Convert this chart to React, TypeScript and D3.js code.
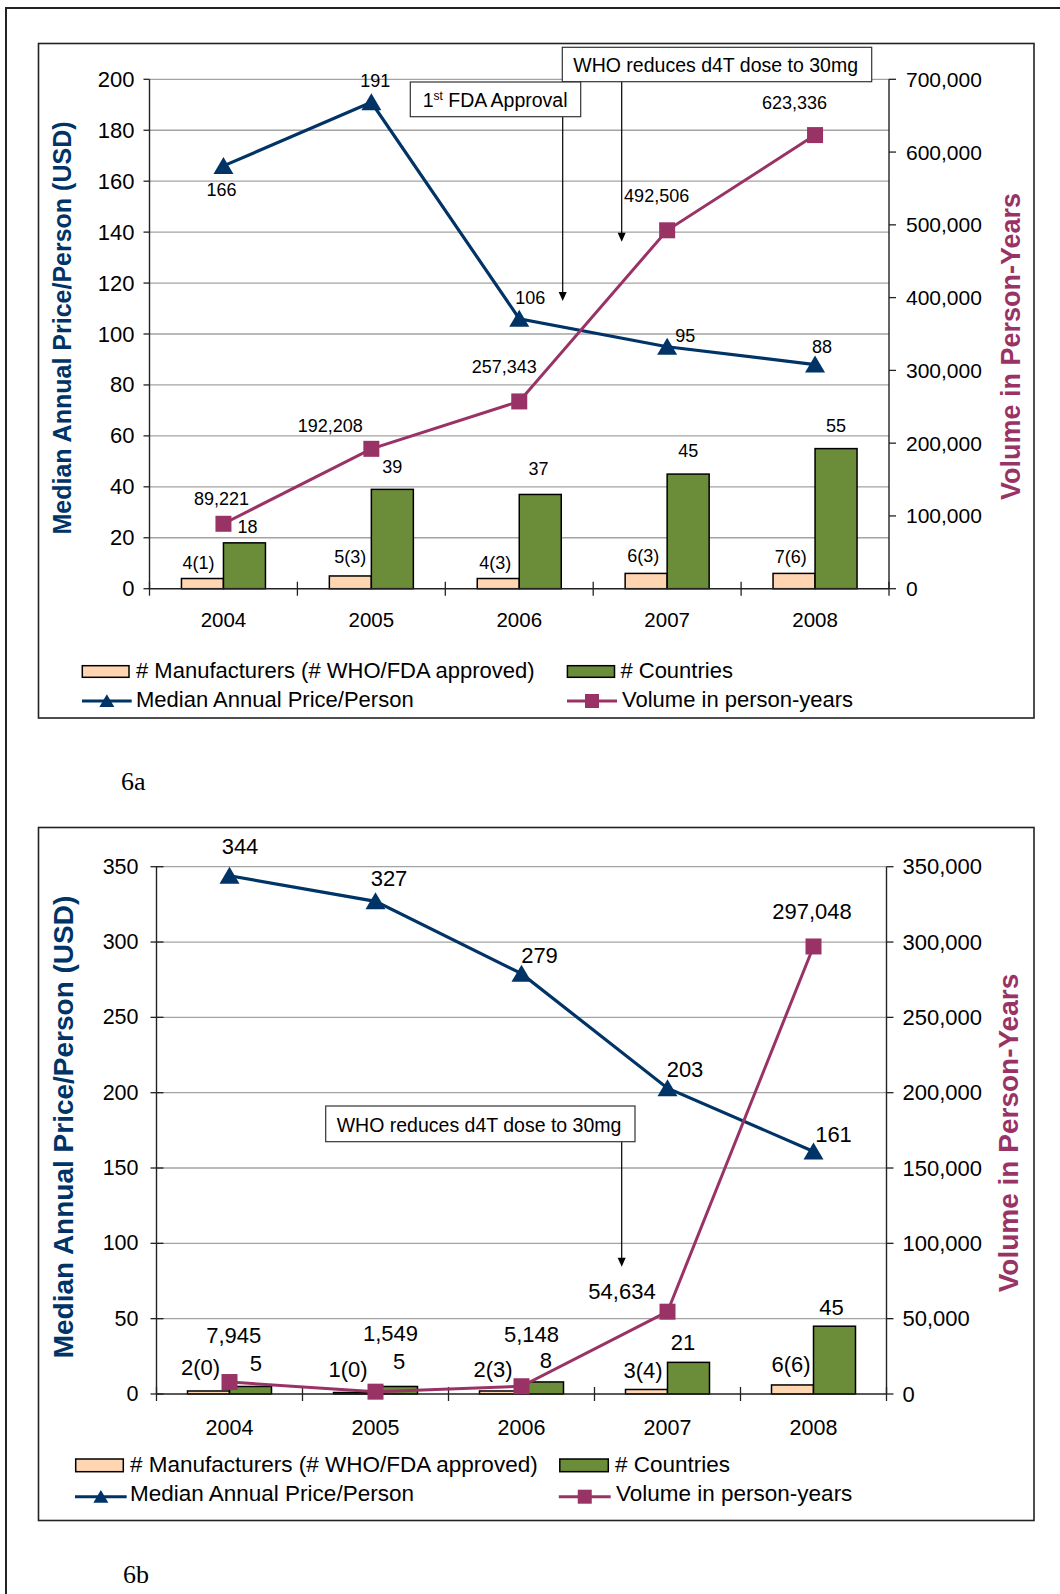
import * as d3 from 'd3';
import React from 'react';

const years = ['2004', '2005', '2006', '2007', '2008'];

// Figure 6a
const mfrA = [4, 5, 4, 6, 6];
const mfrLabelsA = ['4(1)', '5(3)', '4(3)', '6(3)', '7(6)'];
const countriesA = [18, 39, 37, 45, 55];
const priceA = [166, 191, 106, 95, 88];
const volumeA = [89221, 192208, 257343, 492506, 623336];
const leftTicksA = [0, 20, 40, 60, 80, 100, 120, 140, 160, 180, 200];
const rightTicksA = [0, 100000, 200000, 300000, 400000, 500000, 600000, 700000];

// Figure 6b
const mfrB = [2, 1, 2, 3, 6];
const mfrLabelsB = ['2(0)', '1(0)', '2(3)', '3(4)', '6(6)'];
const countriesB = [5, 5, 8, 21, 45];
const priceB = [344, 327, 279, 203, 161];
const volumeB = [7945, 1549, 5148, 54634, 297048];
const leftTicksB = [0, 50, 100, 150, 200, 250, 300, 350];
const rightTicksB = [0, 50000, 100000, 150000, 200000, 250000, 300000, 350000];

const legendNames = [
  '# Manufacturers (# WHO/FDA approved)',
  '# Countries',
  'Median Annual Price/Person',
  'Volume in person-years',
];
const leftTitle = 'Median Annual Price/Person (USD)';
const rightTitle = 'Volume in Person-Years';
const whoNote = 'WHO reduces d4T dose to 30mg';

const FONT = "'Liberation Sans', Arial, Helvetica, sans-serif";
const NAVY = '#003366';
const MAGENTA = '#993366';
const PEACH = '#FFD5B2';
const GREEN = '#6B8C38';
const GRID = '#a3a3a3';
const INK = '#222';

const fmt = d3.format(',');

type Off = [number, number];

interface PanelCfg {
  frame: [number, number, number, number];
  plot: { left: number; right: number; top: number; bottom: number };
  leftTicks: number[];
  rightTicks: number[];
  mfr: number[];
  mfrLabels: string[];
  countries: number[];
  price: number[];
  volume: number[];
  fs: { left: number; right: number; x: number; data: number; legend: number; titleL: number; titleR: number };
  leftGap: number;
  rightGap: number;
  leftTickIn: number;
  barW: number;
  xLabelBase: number;
  priceOff: Off[];
  volOff: Off[];
  ctyOff: Off[];
  mfrOff: Off[];
  titleL: [number, number];
  titleR: [number, number];
  legend: {
    row1: number;
    row2: number;
    lineY: number;
    swH: number;
    swY: number;
    col1: [number, number, number]; // swatch x0, x1, text x
    col2: [number, number, number];
    col1b: [number, number, number];
    col2b: [number, number, number];
  };
  caption: { text: string; x: number; y: number };
}

const tri = (cx: number, cy: number, s = 1) =>
  `M${cx},${cy - 9 * s}L${cx + 10 * s},${cy + 8 * s}L${cx - 10 * s},${cy + 8 * s}Z`;

const Arrow = ({ x, y0, y1 }: { x: number; y0: number; y1: number }) => (
  <g>
    <line x1={x} x2={x} y1={y0} y2={y1 - 6} stroke="#000" strokeWidth={1.2} />
    <path d={`M${x},${y1}L${x - 4},${y1 - 9}L${x + 4},${y1 - 9}Z`} fill="#000" />
  </g>
);

const Panel = ({ c, children }: { c: PanelCfg; children?: React.ReactNode }) => {
  const { left, right, top, bottom } = c.plot;
  const x = d3.scaleBand<string>().domain(years).range([left, right]).padding(0);
  const cx = (d: string) => (x(d) as number) + x.bandwidth() / 2;
  const yL = d3.scaleLinear().domain([0, c.leftTicks[c.leftTicks.length - 1]]).range([bottom, top]);
  const yR = d3.scaleLinear().domain([0, c.rightTicks[c.rightTicks.length - 1]]).range([bottom, top]);
  const pricePath = d3
    .line<number>()
    .x((_, i) => cx(years[i]))
    .y((v) => yL(v))(c.price) as string;
  const volPath = d3
    .line<number>()
    .x((_, i) => cx(years[i]))
    .y((v) => yR(v))(c.volume) as string;
  const [fx0, fy0, fx1, fy1] = c.frame;
  const L = c.legend;

  return (
    <g fontFamily={FONT}>
      <rect x={fx0} y={fy0} width={fx1 - fx0} height={fy1 - fy0} fill="#fff" stroke={INK} strokeWidth={1.6} />

      {/* gridlines */}
      {c.leftTicks.slice(1).map((t) => (
        <line key={t} x1={left} x2={right} y1={yL(t)} y2={yL(t)} stroke={GRID} strokeWidth={1.3} />
      ))}

      {/* bars */}
      {years.map((yr, i) => (
        <g key={yr}>
          <rect x={cx(yr) - c.barW} y={yL(c.mfr[i])} width={c.barW} height={bottom - yL(c.mfr[i])}
            fill={PEACH} stroke="#000" strokeWidth={1.5} />
          <rect x={cx(yr)} y={yL(c.countries[i])} width={c.barW} height={bottom - yL(c.countries[i])}
            fill={GREEN} stroke="#000" strokeWidth={1.5} />
        </g>
      ))}

      {/* axes */}
      <line x1={left} x2={left} y1={top} y2={bottom} stroke={INK} strokeWidth={1.4} />
      <line x1={right} x2={right} y1={top} y2={bottom} stroke={INK} strokeWidth={1.4} />
      <line x1={left} x2={right} y1={bottom} y2={bottom} stroke={INK} strokeWidth={1.6} />
      {c.leftTicks.map((t) => (
        <g key={t}>
          <line x1={left - 6} x2={left + c.leftTickIn} y1={yL(t)} y2={yL(t)} stroke={INK} strokeWidth={1.3} />
          <text x={left - c.leftGap} y={yL(t)} textAnchor="end" dominantBaseline="central" fontSize={c.fs.left}>
            {t}
          </text>
        </g>
      ))}
      {c.rightTicks.map((t) => (
        <g key={t}>
          <line x1={right} x2={right + 7} y1={yR(t)} y2={yR(t)} stroke={INK} strokeWidth={1.3} />
          <text x={right + c.rightGap} y={yR(t)} textAnchor="start" dominantBaseline="central" fontSize={c.fs.right}>
            {fmt(t)}
          </text>
        </g>
      ))}
      {d3.range(years.length + 1).map((i) => {
        const xx = left + i * x.bandwidth();
        return <line key={i} x1={xx} x2={xx} y1={bottom - 7} y2={bottom + 7} stroke={INK} strokeWidth={1.3} />;
      })}
      {years.map((yr) => (
        <text key={yr} x={cx(yr)} y={c.xLabelBase} textAnchor="middle" fontSize={c.fs.x}>
          {yr}
        </text>
      ))}

      {/* lines */}
      <path d={pricePath} fill="none" stroke={NAVY} strokeWidth={3.2} />
      {c.price.map((v, i) => (
        <path key={i} d={tri(cx(years[i]), yL(v))} fill={NAVY} />
      ))}
      <path d={volPath} fill="none" stroke={MAGENTA} strokeWidth={3} />
      {c.volume.map((v, i) => (
        <rect key={i} x={cx(years[i]) - 8} y={yR(v) - 8} width={16} height={16} fill={MAGENTA} />
      ))}

      {/* data labels */}
      <g fontSize={c.fs.data} textAnchor="middle" dominantBaseline="central">
        {years.map((yr, i) => (
          <g key={yr}>
            <text x={cx(yr) - c.barW / 2 + c.mfrOff[i][0]} y={yL(c.mfr[i]) + c.mfrOff[i][1]}>{c.mfrLabels[i]}</text>
            <text x={cx(yr) + c.barW / 2 + c.ctyOff[i][0]} y={yL(c.countries[i]) + c.ctyOff[i][1]}>{c.countries[i]}</text>
            <text x={cx(yr) + c.priceOff[i][0]} y={yL(c.price[i]) + c.priceOff[i][1]}>{c.price[i]}</text>
            <text x={cx(yr) + c.volOff[i][0]} y={yR(c.volume[i]) + c.volOff[i][1]}>{fmt(c.volume[i])}</text>
          </g>
        ))}
      </g>

      {/* axis titles */}
      <text transform={`translate(${c.titleL[0]},${c.titleL[1]}) rotate(-90)`} textAnchor="middle"
        dominantBaseline="central" fontWeight="bold" fontSize={c.fs.titleL} fill={NAVY}>
        {leftTitle}
      </text>
      <text transform={`translate(${c.titleR[0]},${c.titleR[1]}) rotate(-90)`} textAnchor="middle"
        dominantBaseline="central" fontWeight="bold" fontSize={c.fs.titleR} fill={MAGENTA}>
        {rightTitle}
      </text>

      {/* legend */}
      <g fontSize={c.fs.legend}>
        <rect x={L.col1[0]} y={L.swY} width={L.col1[1] - L.col1[0]} height={L.swH} fill={PEACH} stroke="#000" strokeWidth={1.5} />
        <text x={L.col1[2]} y={L.row1}>{legendNames[0]}</text>
        <rect x={L.col2[0]} y={L.swY} width={L.col2[1] - L.col2[0]} height={L.swH} fill={GREEN} stroke="#000" strokeWidth={1.5} />
        <text x={L.col2[2]} y={L.row1}>{legendNames[1]}</text>
        <line x1={L.col1b[0]} x2={L.col1b[1]} y1={L.lineY} y2={L.lineY} stroke={NAVY} strokeWidth={3} />
        <path d={tri((L.col1b[0] + L.col1b[1]) / 2, L.lineY, 0.75)} fill={NAVY} />
        <text x={L.col1b[2]} y={L.row2}>{legendNames[2]}</text>
        <line x1={L.col2b[0]} x2={L.col2b[1]} y1={L.lineY} y2={L.lineY} stroke={MAGENTA} strokeWidth={3} />
        <rect x={(L.col2b[0] + L.col2b[1]) / 2 - 7} y={L.lineY - 7} width={14} height={14} fill={MAGENTA} />
        <text x={L.col2b[2]} y={L.row2}>{legendNames[3]}</text>
      </g>

      {children}

      <text x={c.caption.x} y={c.caption.y} fontFamily="'Liberation Serif', 'Times New Roman', serif" fontSize={26}>
        {c.caption.text}
      </text>
    </g>
  );
};

const cfgA: PanelCfg = {
  frame: [38.5, 43.5, 1034, 718],
  plot: { left: 149.5, right: 889, top: 79.3, bottom: 588.7 },
  leftTicks: leftTicksA,
  rightTicks: rightTicksA,
  mfr: mfrA,
  mfrLabels: mfrLabelsA,
  countries: countriesA,
  price: priceA,
  volume: volumeA,
  fs: { left: 22, right: 21, x: 20.5, data: 18, legend: 22, titleL: 25, titleR: 27 },
  leftGap: 15,
  rightGap: 17,
  leftTickIn: 0,
  barW: 42,
  xLabelBase: 626.7,
  priceOff: [[-2, 24], [4, -21], [11, -21], [18, -11], [7, -18]],
  volOff: [[-2, -25], [-41, -23], [-15, -34], [-10.5, -34], [-20.6, -32.5]],
  ctyOff: [[3, -15.4], [0, -22.7], [-1.7, -25], [0, -23.3], [0, -22.8]],
  mfrOff: [[-4, -16], [0, -18.5], [-3, -16], [-3, -17.4], [-3.3, -16.6]],
  titleL: [62, 328],
  titleR: [1011, 346.5],
  legend: {
    row1: 677.7,
    row2: 706.7,
    lineY: 701,
    swY: 665.7,
    swH: 11.6,
    col1: [82.3, 129, 136],
    col2: [567.4, 614.5, 620.4],
    col1b: [82, 131.7, 136],
    col2b: [567, 617, 622],
  },
  caption: { text: '6a', x: 121, y: 790 },
};

const cfgB: PanelCfg = {
  frame: [38.5, 827.5, 1034, 1520.5],
  plot: { left: 156.5, right: 886.5, top: 866.7, bottom: 1394 },
  leftTicks: leftTicksB,
  rightTicks: rightTicksB,
  mfr: mfrB,
  mfrLabels: mfrLabelsB,
  countries: countriesB,
  price: priceB,
  volume: volumeB,
  fs: { left: 21.5, right: 22, x: 21.5, data: 22, legend: 22.5, titleL: 28, titleR: 28 },
  leftGap: 18,
  rightGap: 16,
  leftTickIn: 7,
  barW: 42,
  xLabelBase: 1435,
  priceOff: [[10.5, -29], [13.5, -23], [18, -18.5], [17.5, -19], [20, -17]],
  volOff: [[4.3, -47], [15, -57.7], [10, -51.8], [-45.5, -20.5], [-1.5, -35]],
  ctyOff: [[5.3, -22.5], [2.5, -24.5], [3.3, -21], [-5.5, -20], [-3, -19]],
  mfrOff: [[-8, -23], [-6.5, -22.5], [-7.5, -21], [-3.5, -18.5], [-1.5, -20]],
  titleL: [63.5, 1127],
  titleR: [1008, 1133],
  legend: {
    row1: 1471.7,
    row2: 1500.7,
    lineY: 1496.7,
    swY: 1459,
    swH: 12.7,
    col1: [75.7, 123.3, 130],
    col2: [559.8, 608.3, 615],
    col1b: [75, 126.7, 130],
    col2b: [558.8, 610.7, 616],
  },
  caption: { text: '6b', x: 123, y: 1583 },
};

const App = () => (
  <>
    <style>{'body{margin:0}'}</style>
    <svg width={1060} height={1594} style={{ display: 'block', background: '#fff' }}>
      <rect x={6} y={8} width={1200} height={1800} fill="#fff" stroke={INK} strokeWidth={2} />
      <Panel c={cfgA}>
        <g fontFamily={FONT} fontSize={19.5}>
          <Arrow x={621.7} y0={81.7} y1={241.7} />
          <rect x={562.3} y={47.3} width={309.4} height={34.4} fill="#fff" stroke="#333" strokeWidth={1.2} />
          <text x={573.3} y={72.3}>{whoNote}</text>
          <Arrow x={562.7} y0={116.7} y1={301} />
          <rect x={410.3} y={82} width={170.4} height={34.7} fill="#fff" stroke="#333" strokeWidth={1.2} />
          <text x={422.7} y={106.7}>
            1<tspan fontSize={12} dy={-7}>st</tspan>
            <tspan dy={7}> FDA Approval</tspan>
          </text>
        </g>
      </Panel>
      <Panel c={cfgB}>
        <g fontFamily={FONT} fontSize={19.5}>
          <Arrow x={621.7} y0={1141.7} y1={1266.7} />
          <rect x={325.7} y={1106} width={309.3} height={35.7} fill="#fff" stroke="#333" strokeWidth={1.2} />
          <text x={336.7} y={1131.7}>{whoNote}</text>
        </g>
      </Panel>
    </svg>
  </>
);

export default App;
